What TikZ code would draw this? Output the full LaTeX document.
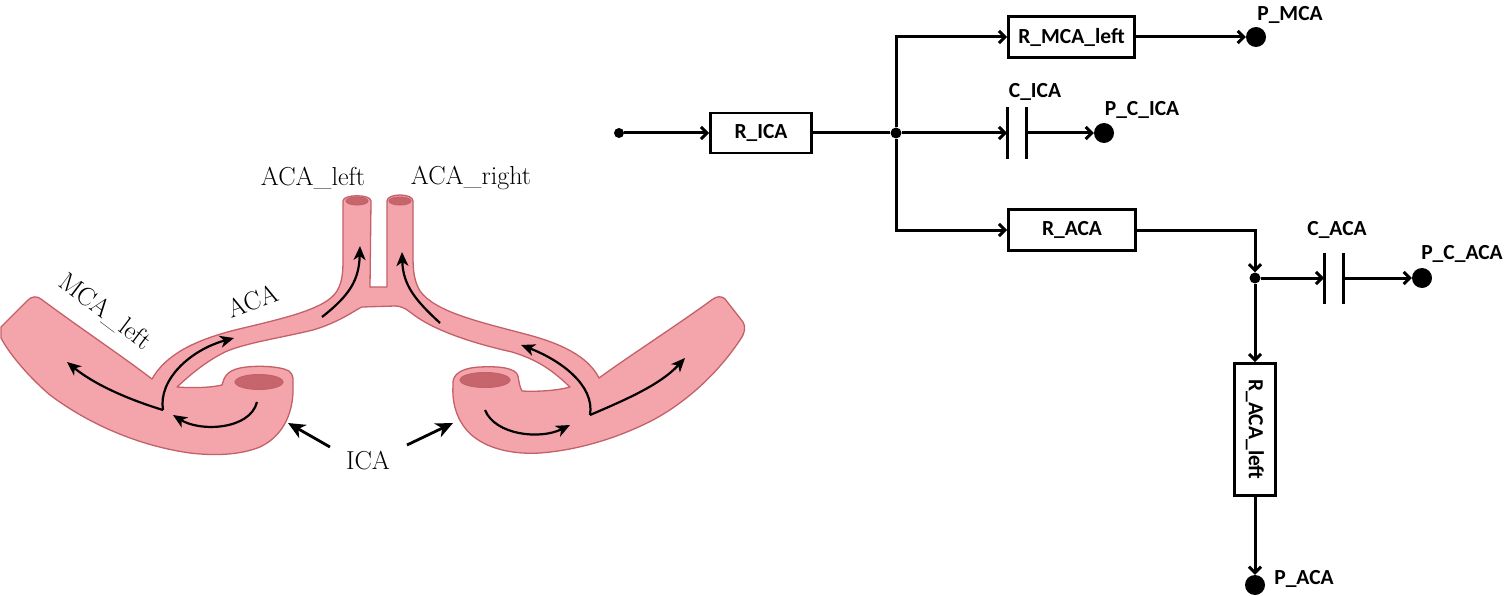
\documentclass[tikz,border=0pt]{standalone}
\usepackage{fontspec}
\newfontfamily\carl{Carlito}
\usetikzlibrary{arrows.meta,calc}
\definecolor{vfill}{RGB}{244,165,171}
\definecolor{vline}{RGB}{196,96,104}
\definecolor{vhole}{RGB}{199,101,108}
\begin{document}
\begin{tikzpicture}[x=1pt,y=-1pt,
  box/.style={draw, line width=2.8pt, inner sep=0pt, font=\carl\bfseries\fontsize{21.5}{24}\selectfont},
  term/.style={circle, fill, inner sep=0pt, minimum size=20pt},
  jdot/.style={circle, fill, inner sep=0pt, minimum size=11pt},
  lab/.style={font=\carl\bfseries\fontsize{21.5}{24}\selectfont, inner sep=0pt},
  vlab/.style={font=\fontsize{26}{30}\selectfont, inner sep=0pt},
  flow/.style={line width=2.2pt, -{Stealth[length=14pt,width=12pt,inset=4pt]}},
  lblarr/.style={line width=2.8pt, -{Stealth[length=17pt,width=15pt,inset=5pt]}},
  vessel/.style={fill=vfill, draw=vline, line width=1.3pt, line join=round},
  hole/.style={fill=vhole, draw=vline, line width=1pt}
]
\useasboundingbox (0,0) rectangle (1506,596);

% ---------------- vessel drawing ----------------
\path[vessel]
 (1,327) -- (28,300)
 .. controls (32,296) and (37,296) .. (41,299)
 .. controls (80,328) and (122,356) .. (152,379)
 .. controls (166,354) and (196,340) .. (235,330)
 .. controls (285,318) and (326,309) .. (337,291)
 .. controls (343,281) and (343,270) .. (343,256)
 -- (343,201)
 .. controls (343,194) and (371,194) .. (371,201)
 -- (370,287) -- (387,287)
 -- (387,201)
 .. controls (387,193) and (413,193) .. (413,201)
 -- (413,256)
 .. controls (413,270) and (414,281) .. (420,291)
 .. controls (435,312) and (480,322) .. (525,334)
 .. controls (560,343) and (588,356) .. (599,378)
 .. controls (632,354) and (676,326) .. (713,299)
 .. controls (717,296) and (722,296) .. (725,299)
 -- (743,322)
 .. controls (746,327) and (745,333) .. (740,340)
 .. controls (720,370) and (690,400) .. (653,420)
 .. controls (620,437) and (580,450) .. (540,453)
 .. controls (505,455) and (478,445) .. (465,428)
 .. controls (455,415) and (452,400) .. (453,385)
 .. controls (452,375) and (460,368) .. (480,367)
 .. controls (500,366) and (516,368) .. (518,376)
 .. controls (519,382) and (520,388) .. (522,391)
 .. controls (540,392) and (560,390) .. (570,387)
 .. controls (552,370) and (538,360) .. (512,352)
 .. controls (472,343) and (432,330) .. (410,312)
 .. controls (405,308) and (400,306) .. (395,306)
 -- (362,307)
 .. controls (355,310) and (340,322) .. (313,330)
 .. controls (280,338) and (245,343) .. (225,352)
 .. controls (205,362) and (190,375) .. (177,387)
 .. controls (190,388) and (210,388) .. (222,385)
 .. controls (224,378) and (226,371) .. (240,368)
 .. controls (255,365) and (280,366) .. (289,371)
 .. controls (294,375) and (293,380) .. (293,385)
 .. controls (294,410) and (285,435) .. (260,447)
 .. controls (240,455) and (215,456) .. (190,453)
 .. controls (140,446) and (90,425) .. (50,395)
 .. controls (30,378) and (10,355) .. (1,338)
 -- cycle;

\path[hole] (259,382) ellipse [x radius=24pt, y radius=7.5pt];
\path[hole] (485,380) ellipse [x radius=25pt, y radius=7.5pt];
\path[hole] (357,201) ellipse [x radius=11pt, y radius=4pt];
\path[hole] (400,201) ellipse [x radius=11pt, y radius=4pt];

% flow arrows
\draw[flow] (257,402) .. controls (250,430) and (200,432) .. (173,415);
\draw[flow] (163,410) .. controls (130,400) and (95,385) .. (67,362);
\draw[flow] (163,410) .. controls (158,380) and (190,350) .. (234,338);
\draw[flow] (322,317) .. controls (350,295) and (359,280) .. (360,246);
\draw[flow] (485,410) .. controls (495,435) and (540,440) .. (570,425);
\draw[flow] (590,415) .. controls (625,400) and (660,385) .. (685,358);
\draw[flow] (590,415) .. controls (595,385) and (560,360) .. (521,345);
\draw[flow] (440,323) .. controls (415,300) and (403,285) .. (402,252);

% vessel labels
\node[vlab] (lACAl) at (313,178) {ACA\_left};
\node[vlab] (lACAr) at (471,178) {ACA\_right};
\node[vlab, rotate=20] (lACA) at (253,301) {ACA};
\node[vlab, rotate=-37] (lMCA) at (105,312) {MCA\_left};
\node[vlab] (lICA) at (368,461) {ICA};
\coordinate (icaLs) at (330,447);
\coordinate (icaLt) at (288,423);
\coordinate (icaRs) at (407,445);
\coordinate (icaRt) at (453,423);
\draw[lblarr] (icaLs) -- (icaLt);
\draw[lblarr] (icaRs) -- (icaRt);

% ---------------- circuit ----------------
\node[jdot, minimum size=10pt] (in) at (619,133) {};
\node[box, minimum width=101pt, minimum height=40pt] (Rica) at (761,133) {R\_ICA};
\node[jdot] (J) at (896,133) {};
\node[box, minimum width=126pt, minimum height=41pt] (Rmca) at (1071.5,37) {R\_MCA\_left};
\node[box, minimum width=127pt, minimum height=41pt] (Raca) at (1072,230) {R\_ACA};
\node[term] (Pmca) at (1256,37) {};
\node[term] (Pcica) at (1104,133) {};
\node[jdot] (J2) at (1255,278) {};
\node[term] (Pcaca) at (1422,278) {};
\node[box, rotate=-90, minimum width=132pt, minimum height=41pt] (RacaL) at (1255,429.5) {R\_ACA\_left};
\node[term] (Paca) at (1255,585) {};

\coordinate (c1L) at (1007,133);
\coordinate (c1R) at (1026,133);
\coordinate (c2L) at (1324,278);
\coordinate (c2R) at (1343,278);

\draw[line width=3pt,-{Straight Barb[length=6pt,width=12pt]}] (in) -- (Rica);
\draw[line width=3pt] (Rica.east) -- (J);
\draw[line width=3pt,-{Straight Barb[length=6pt,width=12pt]}] (J) |- (Rmca.west);
\draw[line width=3pt,-{Straight Barb[length=6pt,width=12pt]}] (J) |- (Raca.west);
\draw[line width=3pt,-{Straight Barb[length=6pt,width=12pt]}] (J) -- (c1L);
\draw[line width=3pt] ($(c1L)+(0,-26)$) -- ($(c1L)+(0,26)$);
\draw[line width=3pt] ($(c1R)+(0,-26)$) -- ($(c1R)+(0,26)$);
\draw[line width=3pt,-{Straight Barb[length=6pt,width=12pt]}] (c1R) -- (Pcica);
\draw[line width=3pt,-{Straight Barb[length=6pt,width=12pt]}] (Rmca) -- (Pmca);
\draw[line width=3pt,-{Straight Barb[length=6pt,width=12pt]}] (Raca.east) -| (J2);
\draw[line width=3pt,-{Straight Barb[length=6pt,width=12pt]}] (J2) -- (c2L);
\draw[line width=3pt] ($(c2L)+(0,-25.5)$) -- ($(c2L)+(0,25.5)$);
\draw[line width=3pt] ($(c2R)+(0,-25.5)$) -- ($(c2R)+(0,25.5)$);
\draw[line width=3pt,-{Straight Barb[length=6pt,width=12pt]}] (c2R) -- (Pcaca);
\draw[line width=3pt,-{Straight Barb[length=6pt,width=12pt]}] (J2) -- (RacaL);
\draw[line width=3pt,-{Straight Barb[length=6pt,width=12pt]}] (RacaL) -- (Paca);

\node[lab] (tCica) at (1035,92) {C\_ICA};
\node[lab] (tPcica) at (1142,110) {P\_C\_ICA};
\node[lab] (tPmca) at (1290,15) {P\_MCA};
\node[lab] (tCaca) at (1337,230) {C\_ACA};
\node[lab] (tPcaca) at (1462,254) {P\_C\_ACA};
\node[lab] (tPaca) at (1304,579) {P\_ACA};
\end{tikzpicture}
\end{document}
